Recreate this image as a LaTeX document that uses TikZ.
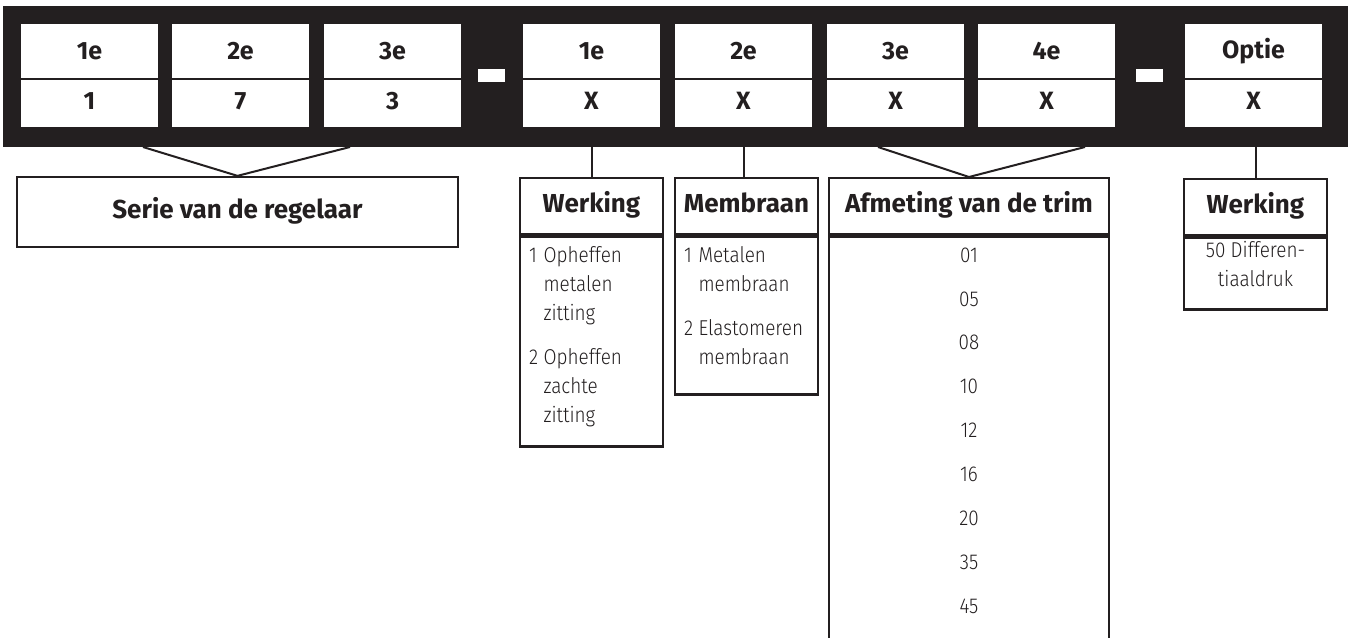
\documentclass[tikz,border=0pt]{standalone}
\usepackage{fontspec}
\setmainfont{Fira Sans}
\newfontfamily\lightfont{Fira Sans Light}[FakeStretch=0.88]
\definecolor{inkblack}{HTML}{231F20}
\tikzset{
  cellhead/.style={fill=white, minimum width=137pt, minimum height=55pt, inner sep=0pt,
    text=inkblack, font=\fontsize{25}{25}\selectfont\bfseries},
  cellval/.style={cellhead, minimum height=48pt},
  headbox/.style={draw=inkblack, line width=2.3pt, fill=white, inner sep=0pt, text=inkblack,
    text height=18pt, text depth=5pt, font=\fontsize{26}{26}\selectfont\bfseries},
  bodybox/.style={draw=inkblack, line width=2.3pt, inner sep=0pt},
  itemtext/.style={inner sep=0pt, text=inkblack, font=\lightfont\fontsize{21.5}{29}\selectfont},
  link/.style={draw=inkblack, line width=2pt}
}
\begin{document}
\begin{tikzpicture}[x=1pt, y=-1pt]
  \clip (0,0) rectangle (1348,637);
  % black code bar
  \fill[inkblack] (3,6) rectangle (1352,147);
  \foreach \cx/\hd/\vl/\nm in {89.5/1e/1/sa, 240.5/2e/7/sb, 392.5/3e/3/sc,
      591.5/1e/X/ta, 743.5/2e/X/tb, 895.5/3e/X/tc, 1046.5/4e/X/td, 1253.5/Optie/X/oa} {
    \node[cellhead, anchor=south] (\nm-hd) at (\cx,79) {\hd};
    \node[cellval, anchor=north] (\nm-vl) at (\cx,79) {\raisebox{4pt}{\vl}};
    \draw[inkblack, line width=1.6pt] (\nm-hd.south west) -- (\nm-hd.south east);
  }
  \node[fill=white, minimum width=27pt, minimum height=13pt, inner sep=0pt] (dash1) at (491.5,75.5) {};
  \node[fill=white, minimum width=27pt, minimum height=13pt, inner sep=0pt] (dash2) at (1149.5,75.5) {};

  % series box
  \node[headbox, minimum width=441pt, minimum height=70pt] (serie) at (237.5,212) {Serie van de regelaar};
  \coordinate (serie-l) at (143,147);
  \coordinate (serie-r) at (350,147);
  \draw[link] (serie-l) -- (serie.north) -- (serie-r);

  % werking
  \node[headbox, minimum width=143pt, minimum height=56pt, anchor=north] (werking) at (591.5,177) {Werking};
  \node[bodybox, minimum width=143pt, minimum height=210pt, anchor=north] (werking-body) at (werking.south) {};
  \node[itemtext, anchor=north west] (werking-list) at (529,242) {%
    \begin{tabular}{@{}l@{\ }l@{}}
      1 & Opheffen\\ & metalen\\ & zitting\\[15pt]
      2 & Opheffen\\ & zachte\\ & zitting
    \end{tabular}};
  \coordinate (werking-top) at (591.5,147);
  \draw[link] (werking-top) -- (werking.north);

  % membraan
  \node[headbox, minimum width=143pt, minimum height=56pt, anchor=north] (membraan) at (746.5,177) {Membraan};
  \node[bodybox, minimum width=143pt, minimum height=158pt, anchor=north] (membraan-body) at (membraan.south) {};
  \node[itemtext, anchor=north west] (membraan-list) at (684,242) {%
    \begin{tabular}{@{}l@{\ }l@{}}
      1 & Metalen\\ & membraan\\[15pt]
      2 & Elastomeren\\ & membraan
    \end{tabular}};
  \coordinate (membraan-top) at (743.5,147);
  \draw[link] (membraan-top) -- (membraan-top |- membraan.north);

  % afmeting van de trim
  \node[headbox, minimum width=280pt, minimum height=56pt, anchor=north] (trim) at (969,177) {Afmeting van de trim};
  \node[bodybox, minimum width=280pt, minimum height=440pt, anchor=north] (trim-body) at (trim.south) {};
  \foreach \v [count=\i] in {01,05,08,10,12,16,20,35,45}
    \node[itemtext] (trim-\i) at (969,{211.1+43.9*\i}) {\v};
  \coordinate (trim-l) at (878,147);
  \coordinate (trim-r) at (1085,147);
  \draw[link] (trim-l) -- (trim.north) -- (trim-r);

  % optie
  \node[headbox, minimum width=143pt, minimum height=56pt, anchor=north] (optie) at (1255.5,178) {Werking};
  \node[bodybox, minimum width=143pt, minimum height=72pt, anchor=north] (optie-body) at (optie.south) {};
  \node[itemtext, align=center] (optie-list) at (1255.5,264) {50 Differen-\\tiaaldruk};
  \coordinate (optie-top) at (1255.5,147);
  \draw[link] (optie-top) -- (optie.north);
\end{tikzpicture}
\end{document}
